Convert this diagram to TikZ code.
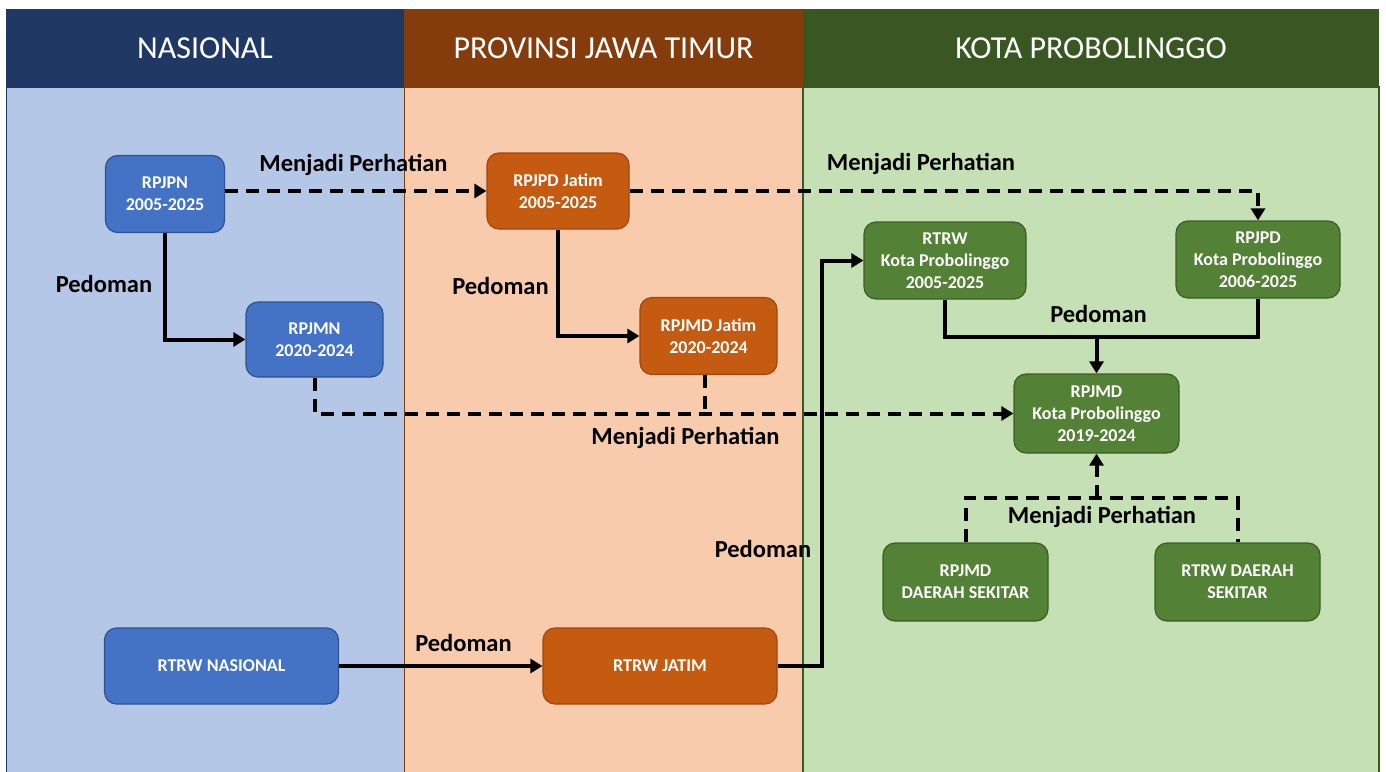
\documentclass[tikz,border=0pt]{standalone}
\usepackage{fontspec}
\setmainfont{Carlito}
\usetikzlibrary{arrows.meta}
\definecolor{nhead}{HTML}{1F3864}
\definecolor{nbody}{HTML}{B4C7E7}
\definecolor{nnode}{HTML}{4472C4}
\definecolor{nline}{HTML}{2F528F}
\definecolor{phead}{HTML}{843C0C}
\definecolor{pbody}{HTML}{F8CBAD}
\definecolor{pnode}{HTML}{C55A11}
\definecolor{pline}{HTML}{A0470D}
\definecolor{khead}{HTML}{385723}
\definecolor{kbody}{HTML}{C5E0B4}
\definecolor{knode}{HTML}{538135}
\definecolor{kline}{HTML}{3B5E26}
\begin{document}
\begin{tikzpicture}[x=1pt,y=-1pt,
  headtext/.style={text=white,font=\fontsize{32}{38}\selectfont},
  nodebox/.style={rounded corners=12pt,line width=1.2pt,text=white,align=center,
    inner sep=2pt,font=\fontsize{18}{22}\selectfont\bfseries},
  bluebox/.style={nodebox,fill=nnode,draw=nline},
  orangebox/.style={nodebox,fill=pnode,draw=pline},
  greenbox/.style={nodebox,fill=knode,draw=kline},
  lbl/.style={font=\fontsize{24.5}{29}\selectfont\bfseries,inner sep=0pt},
  solidline/.style={line width=4pt,draw=black,line join=miter},
  dashline/.style={line width=4pt,draw=black,dash pattern=on 13pt off 8pt,line join=miter},
  tip/.style={-{Triangle[length=12pt,width=14pt]}}
]
\useasboundingbox (0,0) rectangle (1386,771);
% columns
\fill[white] (0,0) rectangle (1386,771);
\draw[fill=nbody,draw=nhead,line width=1pt] (6,87) rectangle (404,790);
\draw[fill=pbody,draw=phead,line width=1pt] (404,87) rectangle (803,790);
\draw[fill=kbody,draw=khead,line width=1.5pt] (803,87) rectangle (1379,790);
\fill[nhead] (6,9) rectangle (404,87);
\fill[phead] (404,9) rectangle (803,87);
\fill[khead] (803,9) rectangle (1379,87);
\node[headtext] (hn) at (205,48) {NASIONAL};
\node[headtext] (hp) at (603.5,48) {PROVINSI JAWA TIMUR};
\node[headtext] (hk) at (1091,48) {KOTA PROBOLINGGO};
% nodes
\node[bluebox,minimum width=119pt,minimum height=77pt] (rpjpn) at (165,194) {RPJPN\\2005-2025};
\node[bluebox,minimum width=137pt,minimum height=75pt] (rpjmn) at (314.5,339.5) {RPJMN\\2020-2024};
\node[bluebox,minimum width=234pt,minimum height=76pt] (rtrwn) at (221.5,666) {RTRW NASIONAL};
\node[orangebox,minimum width=142pt,minimum height=76pt] (rpjpdj) at (558,191) {RPJPD Jatim\\2005-2025};
\node[orangebox,minimum width=137pt,minimum height=77pt] (rpjmdj) at (708.5,336) {RPJMD Jatim\\2020-2024};
\node[orangebox,minimum width=234pt,minimum height=76pt] (rtrwj) at (660,666) {RTRW JATIM};
\node[greenbox,minimum width=162pt,minimum height=77pt] (rtrwk) at (945,260.5) {RTRW\\Kota Probolinggo\\2005-2025};
\node[greenbox,minimum width=164pt,minimum height=77pt] (rpjpdk) at (1258,259.5) {RPJPD\\Kota Probolinggo\\2006-2025};
\node[greenbox,minimum width=165pt,minimum height=79pt] (rpjmdk) at (1096.5,413.5) {RPJMD\\Kota Probolinggo\\2019-2024};
\node[greenbox,minimum width=165pt,minimum height=78pt] (rpjmdd) at (965.5,582) {RPJMD\\DAERAH SEKITAR};
\node[greenbox,minimum width=165pt,minimum height=78pt] (rtrwd) at (1237.5,582) {RTRW DAERAH\\SEKITAR};
% labels
\node[lbl] (mp1) at (353.5,165) {Menjadi Perhatian};
\node[lbl] (mp2) at (921,164) {Menjadi Perhatian};
\node[lbl] (mp3) at (685.5,438) {Menjadi Perhatian};
\node[lbl] (mp4) at (1102,517) {Menjadi Perhatian};
\node[lbl] (pd1) at (104,284) {Pedoman};
\node[lbl] (pd2) at (500.5,286) {Pedoman};
\node[lbl] (pd3) at (1098.5,314) {Pedoman};
\node[lbl] (pd4) at (763,549) {Pedoman};
\node[lbl] (pd5) at (463.5,643) {Pedoman};
% coordinates
\coordinate (jog) at (822,260.5);
\coordinate (busP) at (1096.5,337);
\coordinate (busM) at (1096.5,498);
% connectors
\draw[dashline,tip] (rpjpn.east |- rpjpdj.west) -- (rpjpdj.west);
\draw[dashline,tip] (rpjpdj.east) -| (rpjpdk.north);
\draw[solidline,tip] (rpjpn.south) |- (rpjmn.west);
\draw[solidline,tip] (rpjpdj.south) |- (rpjmdj.west);
\draw[dashline] ([xshift=-3.5pt]rpjmdj.south) -- ([xshift=-3.5pt]rpjmdj.south |- rpjmdk.west);
\draw[dashline,tip] (rpjmn.south) |- (rpjmdk.west);
\draw[solidline,tip] (rtrwn.east) -- (rtrwj.west);
\draw[solidline,tip] (rtrwj.east) -| (jog) -- (rtrwk.west);
\draw[solidline] (rtrwk.south) |- (busP) -| (rpjpdk.south);
\draw[solidline,tip] (busP) -- (rpjmdk.north);
\draw[dashline] (rpjmdd.north) |- (busM) -| (rtrwd.north);
\draw[dashline,tip] (busM) -- (rpjmdk.south);
\end{tikzpicture}
\end{document}
